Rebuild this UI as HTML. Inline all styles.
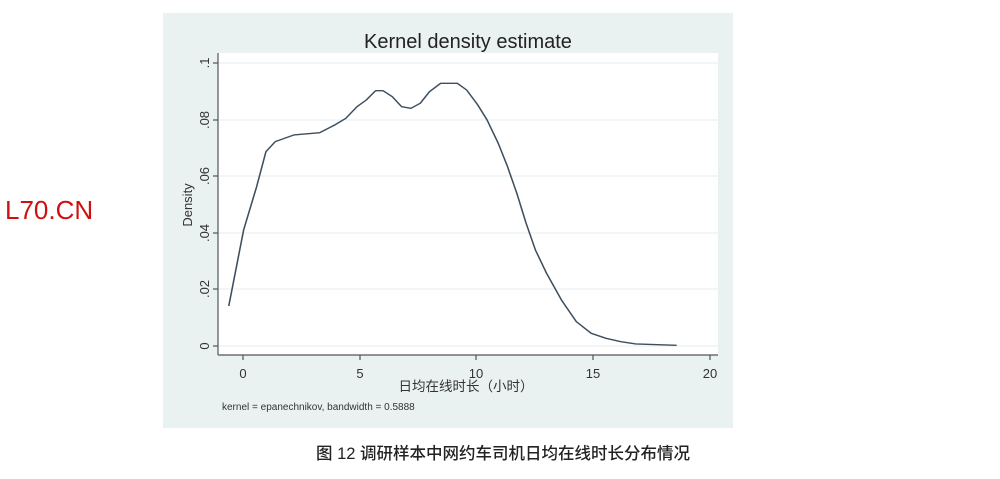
<!DOCTYPE html>
<html><head><meta charset="utf-8"><style>
body{margin:0;width:1000px;height:479px;background:#fff;overflow:hidden;position:relative;font-family:"Liberation Sans","Noto Sans CJK SC",sans-serif}
</style></head><body>
<svg width="1000" height="479" style="position:absolute;left:0;top:0">
<rect x="163" y="13" width="570" height="415" fill="#e9f1f1"/>
<rect x="218" y="53" width="500" height="302" fill="#fff"/>
<g stroke="#e9f1f1" stroke-width="1.2">
<line x1="219" y1="63" x2="718" y2="63"/><line x1="219" y1="120" x2="718" y2="120"/><line x1="219" y1="176" x2="718" y2="176"/><line x1="219" y1="233" x2="718" y2="233"/><line x1="219" y1="289" x2="718" y2="289"/><line x1="219" y1="346" x2="718" y2="346"/>
</g>
<g stroke="#555" stroke-width="1.2" fill="none">
<line x1="218" y1="53" x2="218" y2="355"/>
<line x1="218" y1="355" x2="718" y2="355"/>
<line x1="213" y1="63" x2="218" y2="63"/><line x1="213" y1="120" x2="218" y2="120"/><line x1="213" y1="176" x2="218" y2="176"/><line x1="213" y1="233" x2="218" y2="233"/><line x1="213" y1="289" x2="218" y2="289"/><line x1="213" y1="346" x2="218" y2="346"/>
<line x1="243" y1="355" x2="243" y2="360"/><line x1="360" y1="355" x2="360" y2="360"/><line x1="476" y1="355" x2="476" y2="360"/><line x1="593" y1="355" x2="593" y2="360"/><line x1="710" y1="355" x2="710" y2="360"/>
</g>
<g transform="translate(160,10) scale(0.3717,0.3333)">
<polyline fill="none" stroke="#3d4f5f" stroke-width="4.2" stroke-linejoin="round" points="185,888 225,660 260,530 285,425 310,395 360,375 430,368 470,345 500,325 530,290 555,270 580,242 600,242 625,260 650,290 675,295 700,280 725,245 755,220 800,220 825,240 855,285 880,330 910,400 935,470 960,550 985,640 1010,720 1040,790 1080,870 1120,935 1160,970 1200,985 1240,995 1280,1002 1390,1006"/>
</g>
<text x="468" y="48" font-size="20" fill="#222" text-anchor="middle">Kernel density estimate</text>
<g font-size="13" fill="#333" text-anchor="middle">
<text x="243" y="378">0</text><text x="360" y="378">5</text><text x="476" y="378">10</text><text x="593" y="378">15</text><text x="710" y="378">20</text>
</g>
<g font-size="13" fill="#333" text-anchor="middle">
<text transform="translate(209,63) rotate(-90)">.1</text>
<text transform="translate(209,120) rotate(-90)">.08</text>
<text transform="translate(209,176) rotate(-90)">.06</text>
<text transform="translate(209,233) rotate(-90)">.04</text>
<text transform="translate(209,289) rotate(-90)">.02</text>
<text transform="translate(209,346) rotate(-90)">0</text>
<text transform="translate(192,205) rotate(-90)">Density</text>
</g>
<text x="466" y="391" font-size="13.5" fill="#333" text-anchor="middle">日均在线时长（小时）</text>
<text x="222" y="410" font-size="10" fill="#333">kernel = epanechnikov, bandwidth = 0.5888</text>
<text x="503" y="459" font-size="16.5" fill="#222" text-anchor="middle" font-weight="500">图 12 调研样本中网约车司机日均在线时长分布情况</text>
<text x="5" y="219" font-size="26" fill="#d01010">L70.CN</text>
</svg>
</body></html>
